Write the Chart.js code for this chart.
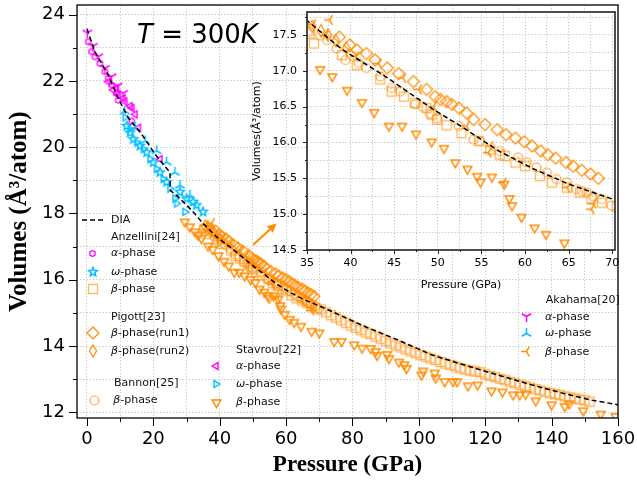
<!DOCTYPE html>
<html>
<head>
<meta charset="utf-8">
<script src="https://cdn.jsdelivr.net/npm/chart.js@4.4.1/dist/chart.umd.min.js"></script>
<style>
  body { margin: 0; background: #fff; }
  #wrap { position: relative; width: 637px; height: 480px; overflow: hidden; }
  #main { position: absolute; left: 0; top: 0; }
  #inset { position: absolute; left: 240px; top: 0; }
  .lg { position: absolute; font: 11px "DejaVu Sans"; color: #111; white-space: nowrap; line-height: 12px; }
  .mk { position: absolute; }
  #temp { position: absolute; left: 137px; top: 19px; font: 26px "DejaVu Sans"; line-height: 30px; color: #000; white-space: nowrap; }
</style>
</head>
<body>
<div id="wrap">
  <canvas id="main" width="637" height="480"></canvas>
  <canvas id="inset" width="390" height="300"></canvas>
  <div id="temp"><i>T</i> = 300<i>K</i></div>
</div>
<script>
// ---- data (pressure in GPa, volume in A^3/atom) ----
const diaP = [0, 2.4, 6.4, 9.4, 12.4, 16.5, 20.5, 25, 25.1, 27.5, 31.5, 35, 39, 44, 49.5, 53, 57, 61, 65, 70, 73, 83, 94, 104, 114, 124, 134, 144, 152, 160];
const diaV = [23.57, 22.88, 22.18, 21.48, 20.89, 20.39, 19.79, 19.24, 18.7, 18.5, 18.1, 17.7, 17.3, 16.92, 16.46, 16.2, 15.88, 15.63, 15.42, 15.21, 15.08, 14.62, 14.17, 13.73, 13.42, 13.12, 12.83, 12.56, 12.37, 12.23];

// Anzellini[24]
const anzAlphaP = [0.4, 1.4, 2.4, 3.9, 5.4, 6.4, 7.4, 8.9, 9.4, 13.5];
const anzAlphaV = [23.18, 22.88, 22.73, 22.53, 22.28, 22.08, 21.88, 21.63, 21.42, 20.79];
const anzOmegaP = [12, 13, 14, 16, 18, 20, 22, 24, 28, 30, 32, 33, 35];
const anzOmegaV = [20.64, 20.44, 20.24, 20.04, 19.84, 19.54, 19.24, 18.95, 18.65, 18.45, 18.35, 18.25, 18.05];
const anzBetaP = [35.3, 35.8, 39.0, 40.7, 43.4, 44.7, 46.1, 47.4, 48.7, 49.3, 49.9, 51.0, 52.7, 54.7, 56.0, 57.1, 57.7, 58.9, 60.0, 61.7, 63.1, 64.8, 66.3, 67.6, 68.8,
  70.5, 72, 73.5, 75, 76.5, 78, 79.5, 81, 82.5, 84, 85.5, 87, 88.5, 90, 91.5, 93, 94.5, 96, 97.5, 99, 100.5, 102, 103.5, 105, 106.5, 108, 109.5, 111, 112.5, 114,
  115.5, 117, 118.5, 120, 121.5, 123, 124.5, 126, 127.5, 129, 130.5, 132, 133.5, 135, 136.5, 138, 139.5, 141, 142.5, 144, 145.5, 147, 148.5, 150, 151.5];
const anzBetaV = [17.52, 17.38, 17.22, 17.08, 16.88, 16.71, 16.64, 16.55, 16.48, 16.39, 16.32, 16.24, 16.13, 16.02, 15.90, 15.83, 15.81, 15.72, 15.67, 15.53, 15.44, 15.37, 15.30, 15.21, 15.16,
  15.10, 15.02, 14.93, 14.86, 14.78, 14.70, 14.62, 14.55, 14.48, 14.41, 14.36, 14.29, 14.22, 14.15, 14.08, 14.02, 13.96, 13.90, 13.84, 13.79, 13.73, 13.68, 13.63, 13.58, 13.52, 13.47, 13.43, 13.38, 13.33, 13.29,
  13.26, 13.23, 13.21, 13.15, 13.10, 13.06, 13.01, 12.97, 12.92, 12.88, 12.83, 12.79, 12.75, 12.70, 12.66, 12.62, 12.58, 12.55, 12.52, 12.48, 12.45, 12.42, 12.39, 12.36, 12.32];

// Pigott[23]
const pigRun1P = [38.7, 39.9, 40.7, 41.8, 42.8, 44.2, 45.5, 47.2, 48.7, 49.7, 50.3, 51.0, 51.6, 52.4, 53.3, 54.1, 55.4, 56.8, 57.8, 58.9, 59.9, 60.8, 61.8, 62.6, 63.5, 64.7, 65.5, 66.5, 67.5, 68.4];
const pigRun1V = [17.47, 17.36, 17.29, 17.24, 17.15, 17.04, 16.96, 16.85, 16.74, 16.64, 16.60, 16.57, 16.53, 16.48, 16.41, 16.32, 16.25, 16.18, 16.11, 16.06, 16.01, 15.95, 15.88, 15.83, 15.78, 15.72, 15.67, 15.61, 15.56, 15.50];
const pigRun2P = [35.6, 36.6, 37.4, 38.3, 39.5];
const pigRun2V = [17.62, 17.56, 17.5, 17.42, 17.32];

// Bannon[25]
const banBetaP = [35.3, 36.5, 37.3, 38.4, 39.4, 40.1, 40.9, 41.8, 43.4, 44.7, 45.7, 47.4, 48.2, 49.1, 49.9, 52.4, 54.1, 54.8, 57.1, 59.2, 60.2, 61.3, 62.5, 63.6, 64.8, 65.9, 66.5, 67.1, 67.8, 68.8, 69.9];
const banBetaV = [17.55, 17.49, 17.43, 17.31, 17.15, 17.22, 17.11, 17.04, 16.92, 16.76, 16.71, 16.53, 16.50, 16.40, 16.34, 16.23, 16.04, 16.02, 15.88, 15.79, 15.72, 15.65, 15.58, 15.49, 15.44, 15.35, 15.32, 15.30, 15.25, 15.21, 15.12];

// Stavrou[22]
const staAlphaP = [6.4, 7.9, 8.9, 9.4, 10.9, 11.4, 13.0, 13.5, 14.5, 15.5, 22];
const staAlphaV = [21.98, 21.73, 21.78, 21.58, 21.48, 21.38, 21.24, 21.18, 20.99, 20.59, 19.64];
const staOmegaP = [11.5, 13, 15, 17, 19, 21, 23, 25, 26.5, 27, 29.5];
const staOmegaV = [20.9, 20.54, 20.14, 19.94, 19.64, 19.34, 19.04, 18.75, 18.45, 18.3, 18.05];
const staBetaP = [29.5, 31, 32.5, 33.5, 34.5, 36.5, 37.9, 39.6, 41.3, 42.7, 44.4, 45.9, 47.5, 49.3, 50.7, 52.0, 53.4, 54.5, 54.9, 56.2, 57.6, 58.2, 58.5, 59.6, 61.1, 62.4, 64.5,
  67.7, 70.0, 74.5, 76.7, 80.5, 82.9, 85.5, 87.0, 87.4, 90.4, 91.0, 94.0, 95.6, 96.3, 100.8, 101.3, 104.8, 105.1, 107.8, 110.3, 111.5, 114.8, 117.7, 121.9, 125.2,
  128.4, 130.4, 132.2, 135.2, 140.0, 144.0, 145.3, 149.5, 154.8, 159.3];
const staBetaV = [17.75, 17.6, 17.45, 17.35, 17.25, 17.02, 16.92, 16.73, 16.56, 16.42, 16.23, 16.23, 16.12, 16.01, 15.92, 15.72, 15.63, 15.53, 15.45, 15.52, 15.42, 15.22, 15.12, 14.96, 14.81, 14.72, 14.60,
  14.45, 14.40, 14.14, 14.14, 14.04, 13.94, 13.93, 13.84, 13.72, 13.75, 13.63, 13.52, 13.44, 13.33, 13.13, 13.25, 13.19, 13.04, 12.93, 12.93, 12.93, 12.80, 12.83, 12.65, 12.62,
  12.53, 12.53, 12.55, 12.35, 12.23, 12.18, 12.26, 12.05, 11.95, 11.88];

// Akahama[20]
const akaAlphaP = [0.1, 1.8, 3.4, 5.4, 7.4, 9.2, 10.9];
const akaAlphaV = [23.45, 23.05, 22.73, 22.38, 22.13, 21.85, 21.63];
const akaOmegaP = [11.4, 14.5, 17.5, 21, 24, 26.5, 28, 31];
const akaOmegaV = [21.09, 20.6, 20.19, 19.89, 19.55, 19.24, 18.85, 18.55];
const akaBetaP = [35.7, 37.1, 37.6, 40.6, 43.2, 46.0, 47.8, 49.5, 53.3, 55.8, 56.0, 57.5, 64.8, 67.6, 67.8];
const akaBetaV = [17.65, 17.49, 17.71, 17.2, 17.1, 16.9, 16.74, 16.5, 16.23, 15.86, 15.95, 15.44, 15.37, 15.07, 15.15];

// arrow pointing at the inset, in data coordinates
const arrowFrom = [50.1, 17.06];
const arrowTo = [57.1, 17.7];

const MAG = '#ff00ff';
const CYAN = '#00bfff';
const ORANGE = '#ff8c00';
const LIGHT = 'rgba(255,140,0,0.6)';

function marker(shape, size, color, lw) {
  const s = Math.ceil(size * 1.4 + lw * 2 + 2);
  const c = document.createElement('canvas');
  c.width = s; c.height = s;
  const g = c.getContext('2d');
  g.translate(s / 2, s / 2);
  g.strokeStyle = color;
  g.lineWidth = lw;
  g.lineJoin = 'miter';
  const r = size / 2;
  const rad = d => d * Math.PI / 180;
  g.beginPath();
  if (shape === 'square') {
    g.rect(-r, -r, 2 * r, 2 * r);
  } else if (shape === 'circle') {
    g.arc(0, 0, r, 0, Math.PI * 2);
  } else if (shape === 'diamond' || shape === 'thin') {
    const w = shape === 'thin' ? r * 0.6 : r;
    g.moveTo(0, -r); g.lineTo(w, 0); g.lineTo(0, r); g.lineTo(-w, 0); g.closePath();
  } else if (shape === 'hex') {
    for (let i = 0; i < 6; i++) {
      const a = rad(-90 + i * 60);
      i ? g.lineTo(r * Math.cos(a), r * Math.sin(a)) : g.moveTo(r * Math.cos(a), r * Math.sin(a));
    }
    g.closePath();
  } else if (shape === 'star') {
    for (let i = 0; i < 10; i++) {
      const a = rad(-90 + i * 36), rr = i % 2 ? r * 0.45 : r;
      i ? g.lineTo(rr * Math.cos(a), rr * Math.sin(a)) : g.moveTo(rr * Math.cos(a), rr * Math.sin(a));
    }
    g.closePath();
  } else if (shape.startsWith('tri')) {
    const d = { triUp: -90, triDown: 90, triLeft: 180, triRight: 0 }[shape];
    for (let i = 0; i < 3; i++) {
      const a = rad(d + i * 120);
      i ? g.lineTo(r * Math.cos(a), r * Math.sin(a)) : g.moveTo(r * Math.cos(a), r * Math.sin(a));
    }
    g.closePath();
  } else {
    const arms = { Ydown: [90, 210, 330], Yup: [-90, 30, 150], Yleft: [180, 60, -60] }[shape];
    arms.forEach(d => { g.moveTo(0, 0); g.lineTo(r * Math.cos(rad(d)), r * Math.sin(rad(d))); });
  }
  g.stroke();
  return c;
}

const styleDefs = {
  anzA: ['hex', 6, MAG, 1.3],
  anzW: ['star', 9, CYAN, 1.5],
  anzB: ['square', 9, LIGHT, 1.3],
  pig1: ['diamond', 12, ORANGE, 1.2],
  pig2: ['thin', 12, ORANGE, 1.2],
  ban: ['circle', 9, 'rgba(255,140,0,0.8)', 1.2],
  staA: ['triLeft', 8, MAG, 1.4],
  staW: ['triRight', 8, CYAN, 1.4],
  staB: ['triDown', 10, ORANGE, 1.5],
  akaA: ['Ydown', 11, MAG, 1.5],
  akaW: ['Yup', 11, CYAN, 1.5],
  akaB: ['Yleft', 11, ORANGE, 1.5]
};
const styles = {};
Object.keys(styleDefs).forEach(k => { styles[k] = marker(...styleDefs[k]); });

function pts(ps, vs) { return ps.map((p, i) => ({ x: p, y: vs[i] })); }

function series() {
  const sc = (label, ps, vs, key) => ({ label, data: pts(ps, vs), pointStyle: styles[key], pointRadius: 3, showLine: false });
  return [
    { label: 'DIA', data: pts(diaP, diaV), showLine: true, borderColor: '#000', borderWidth: 1.5, borderDash: [5, 3], pointRadius: 0, fill: false },
    sc('Akahama alpha', akaAlphaP, akaAlphaV, 'akaA'),
    sc('Akahama omega', akaOmegaP, akaOmegaV, 'akaW'),
    sc('Akahama beta', akaBetaP, akaBetaV, 'akaB'),
    sc('Anzellini alpha', anzAlphaP, anzAlphaV, 'anzA'),
    sc('Anzellini omega', anzOmegaP, anzOmegaV, 'anzW'),
    sc('Stavrou alpha', staAlphaP, staAlphaV, 'staA'),
    sc('Stavrou omega', staOmegaP, staOmegaV, 'staW'),
    sc('Pigott run1', pigRun1P, pigRun1V, 'pig1'),
    sc('Pigott run2', pigRun2P, pigRun2V, 'pig2'),
    sc('Bannon beta', banBetaP, banBetaV, 'ban'),
    sc('Anzellini beta', anzBetaP, anzBetaV, 'anzB'),
    sc('Stavrou beta', staBetaP, staBetaV, 'staB')
  ];
}

function isMajor(v, m) { return Math.abs(v / m - Math.round(v / m)) < 1e-6; }

const whiteArea = {
  id: 'whiteArea',
  beforeDraw(chart) {
    const a = chart.chartArea, ctx = chart.ctx;
    ctx.save(); ctx.fillStyle = '#fff';
    ctx.fillRect(a.left, a.top, a.right - a.left, a.bottom - a.top);
    ctx.restore();
  }
};

const frameTicks = {
  id: 'frameTicks',
  afterDraw(chart, args, o) {
    const a = chart.chartArea, ctx = chart.ctx;
    const xs = chart.scales.x, ys = chart.scales.y;
    ctx.save();
    ctx.strokeStyle = o.color;
    ctx.lineWidth = o.tickWidth;
    xs.ticks.forEach(t => {
      const px = Math.round(xs.getPixelForValue(t.value)) + 0.5;
      const len = isMajor(t.value, o.xMajor) ? o.major : o.minor;
      ctx.beginPath(); ctx.moveTo(px, a.bottom); ctx.lineTo(px, a.bottom + len); ctx.stroke();
    });
    ys.ticks.forEach(t => {
      const py = Math.round(ys.getPixelForValue(t.value)) + 0.5;
      const len = isMajor(t.value, o.yMajor) ? o.major : o.minor;
      ctx.beginPath(); ctx.moveTo(a.left, py); ctx.lineTo(a.left - len, py); ctx.stroke();
    });
    ctx.lineWidth = o.frameWidth;
    ctx.strokeRect(a.left, a.top, a.right - a.left, a.bottom - a.top);
    ctx.restore();
  }
};

const arrow = {
  id: 'arrow',
  afterDatasetsDraw(chart) {
    const xs = chart.scales.x, ys = chart.scales.y, ctx = chart.ctx;
    const x0 = xs.getPixelForValue(arrowFrom[0]), y0 = ys.getPixelForValue(arrowFrom[1]);
    const x1 = xs.getPixelForValue(arrowTo[0]), y1 = ys.getPixelForValue(arrowTo[1]);
    const ang = Math.atan2(y1 - y0, x1 - x0), hl = 9, hw = 4.5;
    const bx = x1 - hl * Math.cos(ang), by = y1 - hl * Math.sin(ang);
    ctx.save();
    ctx.strokeStyle = ORANGE; ctx.fillStyle = ORANGE; ctx.lineWidth = 2;
    ctx.beginPath(); ctx.moveTo(x0, y0); ctx.lineTo(bx, by); ctx.stroke();
    ctx.beginPath();
    ctx.moveTo(x1, y1);
    ctx.lineTo(bx + hw * Math.sin(ang), by - hw * Math.cos(ang));
    ctx.lineTo(bx - hw * Math.sin(ang), by + hw * Math.cos(ang));
    ctx.closePath(); ctx.fill();
    ctx.restore();
  }
};

function axis(o) {
  return {
    type: 'linear',
    min: o.min, max: o.max,
    afterFit(s) {
      if (o.width) s.width = o.width;
      if (o.height) s.height = o.height;
      s.paddingTop = 0; s.paddingBottom = 0; s.paddingLeft = 0; s.paddingRight = 0;
    },
    ticks: {
      stepSize: o.step, includeBounds: false, autoSkip: false, maxRotation: 0, minRotation: 0,
      padding: o.pad, color: '#000', font: { family: 'DejaVu Sans', size: o.fs },
      callback: v => isMajor(v, o.major) ? (o.fmt ? v.toFixed(o.fmt) : Math.round(v)) : ''
    },
    grid: { color: '#b4b4b4', lineWidth: 0.8, drawTicks: false },
    border: { display: false, dash: [1.2, 2] },
    title: { display: true, text: o.title, color: '#000', font: o.tfont, padding: o.tpad }
  };
}

new Chart(document.getElementById('main'), {
  type: 'scatter',
  data: { datasets: series() },
  options: {
    responsive: false, animation: false, events: [],
    layout: { padding: { left: 0, right: 19, top: 1, bottom: 0 } },
    plugins: {
      legend: { display: false }, tooltip: { enabled: false },
      frameTicks: { color: '#000', tickWidth: 1, frameWidth: 1.3, major: 8, minor: 4, xMajor: 20, yMajor: 2 }
    },
    scales: {
      x: axis({ min: -3, max: 160, step: 10, major: 20, pad: 11, fs: 18, height: 62, title: 'Pressure (GPa)',
        tfont: { family: 'Liberation Serif', size: 23, weight: 'bold' }, tpad: { top: 0, bottom: 1 } }),
      y: axis({ min: 11.83, max: 24.29, step: 1, major: 2, pad: 12, fs: 18, width: 77, title: 'Volumes (Å³/atom)',
        tfont: { family: 'Liberation Serif', size: 25, weight: 'bold' }, tpad: { top: 5, bottom: 0 } })
    }
  },
  plugins: [frameTicks, arrow]
});

new Chart(document.getElementById('inset'), {
  type: 'scatter',
  data: { datasets: series() },
  options: {
    responsive: false, animation: false, events: [],
    layout: { padding: { left: 0, right: 15, top: 12, bottom: 0 } },
    plugins: {
      legend: { display: false }, tooltip: { enabled: false },
      frameTicks: { color: '#222', tickWidth: 1, frameWidth: 1.6, major: 4, minor: 2, xMajor: 5, yMajor: 0.5 }
    },
    scales: {
      x: axis({ min: 35, max: 70.31, step: 2.5, major: 5, pad: 7, fs: 11, height: 50, title: 'Pressure (GPa)',
        tfont: { family: 'DejaVu Sans', size: 11 }, tpad: { top: 0, bottom: 8 } }),
      y: axis({ min: 14.5, max: 17.82, step: 0.25, major: 0.5, pad: 10, fs: 11, width: 67, fmt: 1, title: 'Volumes(Å³/atom)',
        tfont: { family: 'DejaVu Sans', size: 11 }, tpad: { top: 11, bottom: 0 } })
    }
  },
  plugins: [whiteArea, frameTicks]
});

// ---- legend (HTML text with marker glyphs) ----
const wrap = document.getElementById('wrap');
function text(x, y, html) {
  const d = document.createElement('div');
  d.className = 'lg'; d.innerHTML = html;
  d.style.left = x + 'px'; d.style.top = (y - 6) + 'px';
  wrap.appendChild(d);
}
function mark(x, y, key) {
  const c = marker(...styleDefs[key]);
  c.className = 'mk';
  c.style.left = (x - c.width / 2) + 'px'; c.style.top = (y - c.height / 2) + 'px';
  wrap.appendChild(c);
}
const dash = document.createElement('canvas');
dash.width = 24; dash.height = 4; dash.className = 'mk';
dash.style.left = '81px'; dash.style.top = '218px';
const dg = dash.getContext('2d');
dg.setLineDash([5, 3]); dg.lineWidth = 1.5; dg.beginPath(); dg.moveTo(1, 2); dg.lineTo(23, 2); dg.stroke();
wrap.appendChild(dash);
text(111, 220, 'DIA');
text(111, 237, 'Anzellini[24]');
mark(92.7, 253, 'anzA'); text(111, 253, '<i>α</i>-phase');
mark(92.7, 271.7, 'anzW'); text(111, 271.7, '<i>ω</i>-phase');
mark(92.7, 289.3, 'anzB'); text(111, 289.3, '<i>β</i>-phase');
text(111, 316.7, 'Pigott[23]');
mark(92.7, 332.7, 'pig1'); text(111, 332.7, '<i>β</i>-phase(run1)');
mark(92.7, 350.7, 'pig2'); text(111, 350.7, '<i>β</i>-phase(run2)');
text(114, 383.3, 'Bannon[25]');
mark(94.3, 400, 'ban'); text(113.3, 400, '<i>β</i>-phase');
text(236, 350, 'Stavrou[22]');
mark(216, 365.7, 'staA'); text(236, 365.7, '<i>α</i>-phase');
mark(216, 384, 'staW'); text(236, 384, '<i>ω</i>-phase');
mark(216, 402, 'staB'); text(236, 402, '<i>β</i>-phase');
text(545.7, 300, 'Akahama[20]');
mark(526, 316.7, 'akaA'); text(545, 316.7, '<i>α</i>-phase');
mark(526, 333.3, 'akaW'); text(545, 333.3, '<i>ω</i>-phase');
mark(526, 351.7, 'akaB'); text(545, 351.7, '<i>β</i>-phase');
</script>
</body>
</html>
